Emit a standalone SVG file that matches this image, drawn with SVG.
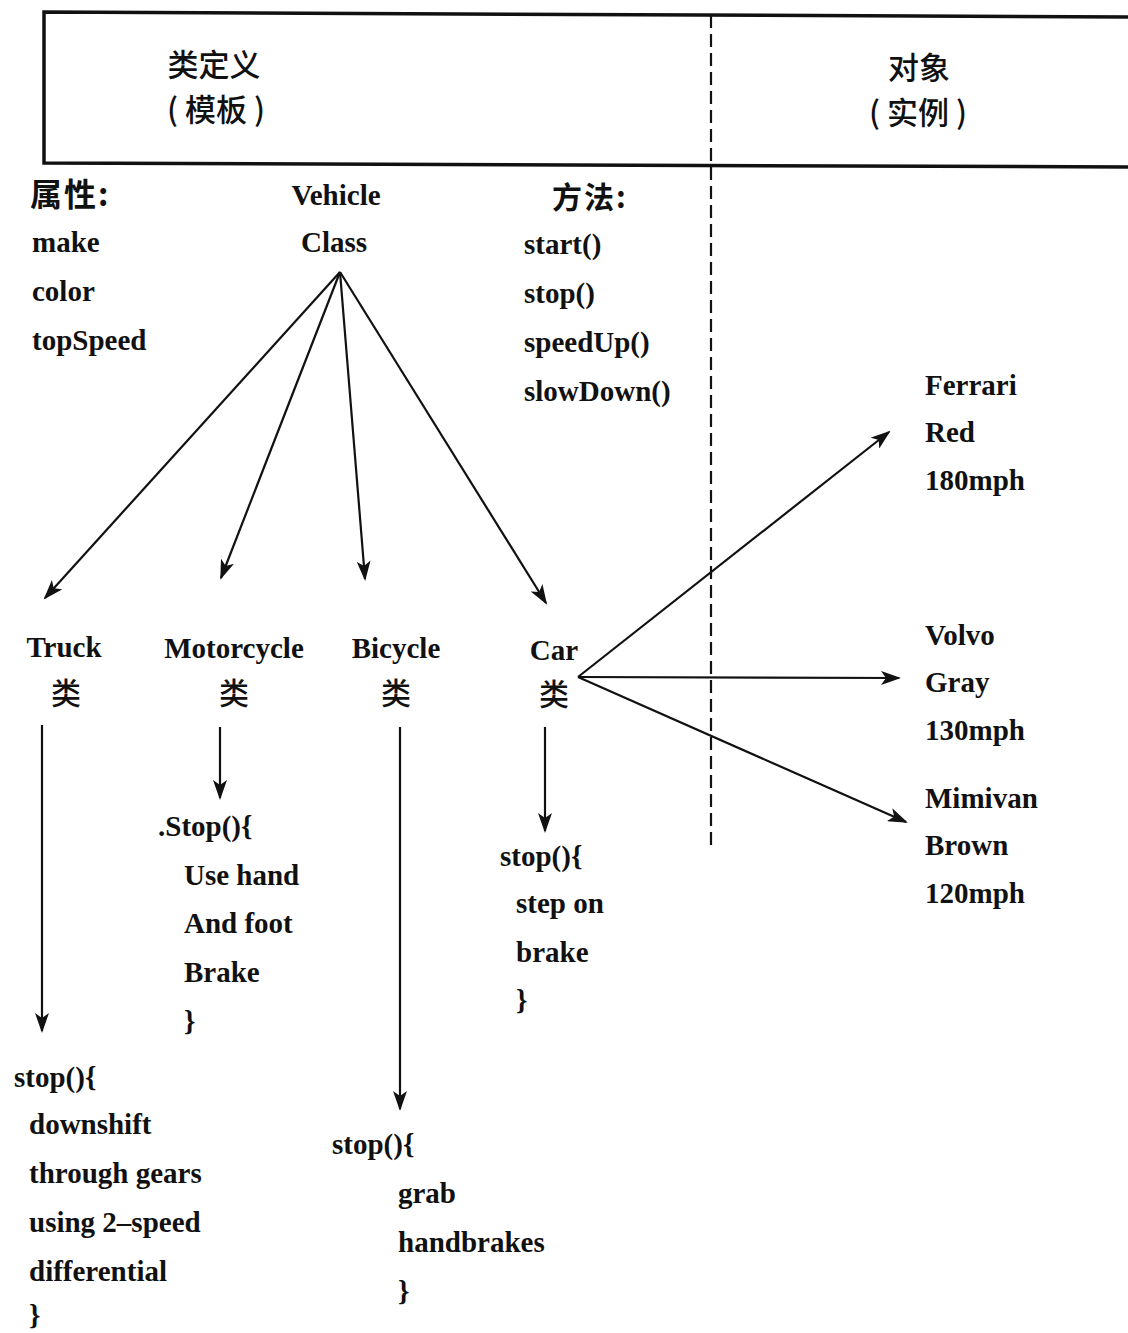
<svg xmlns="http://www.w3.org/2000/svg" width="1128" height="1333" viewBox="0 0 1128 1333">
<style>
  text { font-family: "Liberation Serif", "Noto Sans CJK SC", serif; font-size: 29px; fill: #111; font-weight: bold; }
  .cjk { font-family: "Noto Sans CJK SC", sans-serif; font-size: 30px; font-weight: 500; }
  .hd { font-size: 31px; }
  .mid { text-anchor: middle; }
  .conn { stroke: #111; stroke-width: 2.2; fill: none; marker-end: url(#ah); }
  .frame { stroke: #111; stroke-width: 3.5; fill: none; }
  .dash { stroke: #111; stroke-width: 2.2; stroke-dasharray: 13 6; fill: none; }
</style>
<defs>
  <marker id="ah" markerUnits="userSpaceOnUse" markerWidth="20" markerHeight="14" viewBox="0 0 20 14" refX="18" refY="7" orient="auto">
    <path d="M0,0 L20,7 L0,14 L5,7 Z" fill="#111"/>
  </marker>
</defs>
<rect width="1128" height="1333" fill="#fff"/>

<g id="header">
  <path class="frame" d="M1128,17 L44,12 L44,163 L1128,167"/>
  <line class="dash" x1="711" y1="15" x2="711" y2="850"/>
  <text class="cjk hd mid" x="214" y="76">类定义</text>
  <text class="cjk hd mid" x="216" y="121">( 模板 )</text>
  <text class="cjk hd mid" x="919" y="79">对象</text>
  <text class="cjk hd mid" x="918" y="124">( 实例 )</text>
</g>

<g id="vehicle-class">
  <text class="cjk" x="30" y="206" style="font-weight:bold;font-size:32px;letter-spacing:2px">属性:</text>
  <text x="32" y="252">make</text>
  <text x="32" y="301">color</text>
  <text x="32" y="350">topSpeed</text>
  <text class="mid" x="336" y="205">Vehicle</text>
  <text class="mid" x="334" y="252">Class</text>
  <text class="cjk" x="552" y="208" style="font-weight:bold;letter-spacing:2px">方法:</text>
  <text x="524" y="254">start()</text>
  <text x="524" y="303">stop()</text>
  <text x="524" y="352">speedUp()</text>
  <text x="524" y="401">slowDown()</text>
</g>

<g id="truck">
  <text class="mid" x="64" y="657">Truck</text>
  <text class="cjk mid" x="66" y="704">类</text>
  <text x="14" y="1087">stop(){</text>
  <text x="29" y="1134">downshift</text>
  <text x="29" y="1183">through gears</text>
  <text x="29" y="1232">using 2–speed</text>
  <text x="29" y="1281">differential</text>
  <text x="29" y="1325">}</text>
</g>

<g id="motorcycle">
  <text class="mid" x="234" y="658">Motorcycle</text>
  <text class="cjk mid" x="234" y="704">类</text>
  <text x="158" y="836">.Stop(){</text>
  <text x="184" y="885">Use hand</text>
  <text x="184" y="933">And foot</text>
  <text x="184" y="982">Brake</text>
  <text x="184" y="1031">}</text>
</g>

<g id="bicycle">
  <text class="mid" x="396" y="658">Bicycle</text>
  <text class="cjk mid" x="396" y="704">类</text>
  <text x="332" y="1154">stop(){</text>
  <text x="398" y="1203">grab</text>
  <text x="398" y="1252">handbrakes</text>
  <text x="398" y="1301">}</text>
</g>

<g id="car">
  <text class="mid" x="554" y="660">Car</text>
  <text class="cjk mid" x="554" y="705">类</text>
  <text x="500" y="866">stop(){</text>
  <text x="516" y="913">step on</text>
  <text x="516" y="962">brake</text>
  <text x="516" y="1010">}</text>
</g>

<g id="ferrari">
  <text x="925" y="395">Ferrari</text>
  <text x="925" y="442">Red</text>
  <text x="925" y="490">180mph</text>
</g>
<g id="volvo">
  <text x="925" y="645">Volvo</text>
  <text x="925" y="692">Gray</text>
  <text x="925" y="740">130mph</text>
</g>
<g id="minivan">
  <text x="925" y="808">Mimivan</text>
  <text x="925" y="855">Brown</text>
  <text x="925" y="903">120mph</text>
</g>

<g id="connectors">
  <line class="conn" x1="340" y1="272" x2="45" y2="598"/>
  <line class="conn" x1="340" y1="272" x2="221" y2="578"/>
  <line class="conn" x1="340" y1="272" x2="365" y2="579"/>
  <line class="conn" x1="340" y1="272" x2="546" y2="603"/>
  <line class="conn" x1="578" y1="677" x2="889" y2="432"/>
  <line class="conn" x1="578" y1="677" x2="899" y2="678"/>
  <line class="conn" x1="578" y1="677" x2="906" y2="822"/>
  <line class="conn" x1="42" y1="725" x2="42" y2="1031"/>
  <line class="conn" x1="220" y1="727" x2="220" y2="798"/>
  <line class="conn" x1="400" y1="727" x2="400" y2="1109"/>
  <line class="conn" x1="545" y1="727" x2="545" y2="831"/>
</g>
</svg>
